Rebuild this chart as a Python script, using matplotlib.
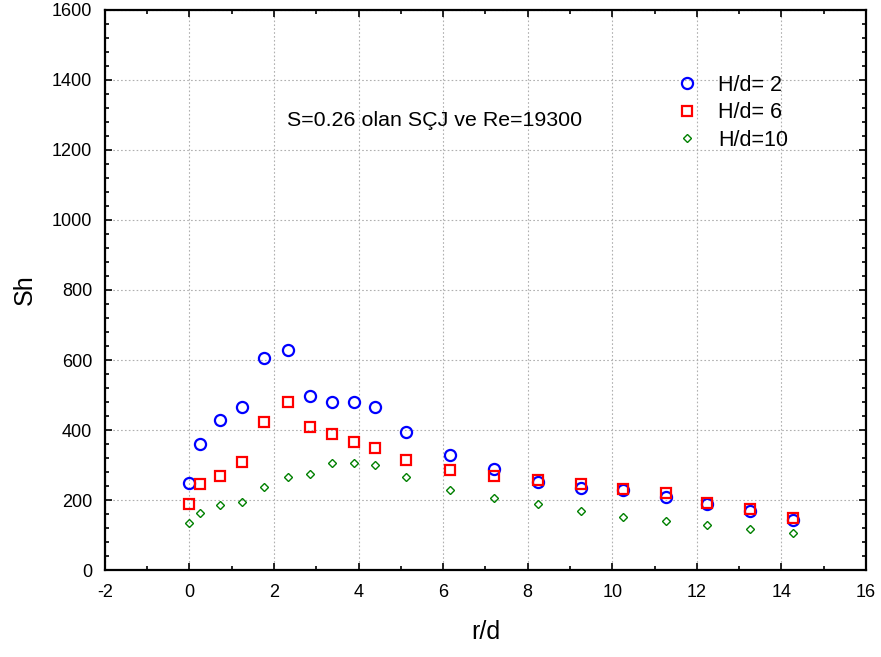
import matplotlib
matplotlib.use('Agg')
import matplotlib.pyplot as plt
from matplotlib.ticker import MultipleLocator

plt.rcParams['font.family'] = ['Liberation Sans', 'DejaVu Sans']
plt.rcParams['axes.unicode_minus'] = False

# r/d positions shared by all three series
rd = [0.0, 0.24, 0.72, 1.25, 1.77, 2.33, 2.86, 3.37, 3.89, 4.39,
      5.12, 6.16, 7.2, 8.25, 9.25, 10.25, 11.28, 12.25, 13.25, 14.28]

sh_h2 = [250, 359, 428, 467, 605, 628, 496, 480, 480, 467,
         393, 330, 288, 252, 233, 228, 210, 190, 170, 143]
sh_h6 = [188, 245, 268, 308, 422, 479, 410, 388, 365, 348,
         313, 285, 268, 256, 245, 232, 221, 192, 175, 148]
sh_h10 = [134, 162, 185, 195, 236, 265, 275, 305, 305, 299,
          265, 230, 207, 190, 168, 151, 139, 128, 116, 105]

labels = ['H/d= 2', 'H/d= 6', 'H/d=10']

fig = plt.figure(figsize=(8.81, 6.57), dpi=100)
ax = fig.add_axes([0.119, 0.1324, 0.864, 0.8524])

ax.plot(rd, sh_h2, 'o', ls='none', ms=8, mfc='none', mec='#0000ff', mew=1.6, label=labels[0])
ax.plot(rd, sh_h6, 's', ls='none', ms=7.5, mfc='none', mec='#ff0000', mew=1.6, label=labels[1])
ax.plot(rd, sh_h10, 'D', ls='none', ms=4.5, mfc='none', mec='#008000', mew=1.0, label=labels[2])

ax.set_xlim(-2, 16)
ax.set_ylim(0, 1600)
ax.xaxis.set_major_locator(MultipleLocator(2))
ax.xaxis.set_minor_locator(MultipleLocator(1))
ax.yaxis.set_major_locator(MultipleLocator(200))
ax.yaxis.set_minor_locator(MultipleLocator(40))
ax.tick_params(which='both', direction='in', top=True, right=True, width=1.2, labelsize=13)
ax.tick_params(which='major', length=5)
ax.tick_params(which='minor', length=3)
ax.tick_params(axis='x', pad=10)
ax.tick_params(axis='y', pad=9)
for s in ax.spines.values():
    s.set_linewidth(1.6)
ax.grid(True, which='major', ls=(0, (1.5, 2)), color='#b0b0b0', lw=0.8)

ax.set_xlabel('r/d', fontsize=18, labelpad=14)
ax.set_ylabel('Sh', fontsize=18, labelpad=11)

ax.text(2.31, 1283, 'S=0.26 olan SÇJ ve Re=19300', fontsize=15.4, va='center')

ax.legend(loc='upper left', bbox_to_anchor=(0.718, 0.919), frameon=False, fontsize=15.5,
          handletextpad=0.7, labelspacing=0.3, handlelength=1.5)

fig.savefig('out.png', dpi=100)
